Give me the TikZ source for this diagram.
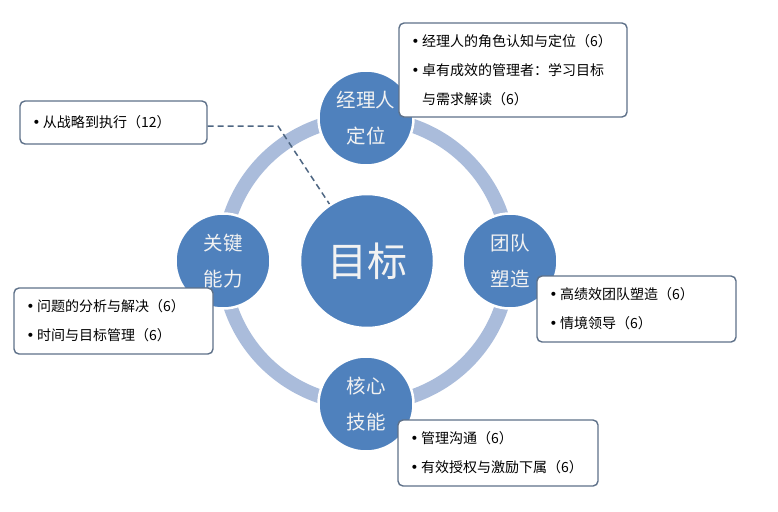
\documentclass[tikz,border=0pt]{standalone}
\usepackage{fontspec}
\setmainfont{Noto Sans CJK SC}
\newfontfamily\dotfont{DejaVu Sans}
\usepackage{xcolor}
\usetikzlibrary{positioning}
\definecolor{nodeblue}{HTML}{4F81BD}
\definecolor{ringblue}{HTML}{AABCDB}
\definecolor{boxline}{HTML}{5E7189}
\definecolor{dashline}{HTML}{4E6682}
\newcommand{\itm}[1]{\makebox[13pt][c]{\dotfont•}#1}
\newcommand{\cont}[1]{\hspace*{13pt}#1}

\begin{document}
\begin{tikzpicture}[
  x=1pt, y=-1pt,
  hub/.style={circle, fill=nodeblue, draw=white, line width=2.5pt,
              text=white!95!black, align=center, inner sep=0pt},
  goal/.style={hub, minimum size=134pt, font=\fontsize{40}{40}\selectfont},
  part/.style={hub, minimum size=95pt, font=\fontsize{19.5}{36}\selectfont},
  info/.style={draw=boxline, line width=1.4pt, rounded corners=5pt, fill=white,
               align=left, inner xsep=10pt, inner ysep=0pt,
               font=\fontsize{14}{29}\selectfont},
  ring/.style={ringblue, line width=14pt},
  link/.style={dashline, line width=1.5pt, dash pattern=on 6pt off 4pt},
]
\useasboundingbox (0,0) rectangle (778,511);
\draw[ring] (366,261) circle[radius=143];

\node[goal] (aim) at (367,261) {目标};
\node[part] (role) at (366,118) {经理人\\定位};
\node[part] (team) at (510,261) {团队\\塑造};
\node[part] (skill) at (366,404) {核心\\技能};
\node[part] (power) at (223,261) {关键\\能力};

\node[info, minimum width=228pt, minimum height=94pt, text width=208pt] (rolebox) at (513,70)
  {\itm{经理人的角色认知与定位（6）}\\\itm{卓有成效的管理者：学习目标}\\\cont{与需求解读（6）}};
\node[info, minimum width=187pt, minimum height=43pt, text width=167pt] (planbox) at (113.5,122.5)
  {\itm{从战略到执行（12）}};
\node[info, minimum width=199pt, minimum height=66pt, text width=179pt] (powerbox) at (113.5,321)
  {\itm{问题的分析与解决（6）}\\\itm{时间与目标管理（6）}};
\node[info, minimum width=199pt, minimum height=66pt, text width=179pt] (teambox) at (636.5,309)
  {\itm{高绩效团队塑造（6）}\\\itm{情境领导（6）}};
\node[info, minimum width=200pt, minimum height=66pt, text width=180pt] (skillbox) at (498,453)
  {\itm{管理沟通（6）}\\\itm{有效授权与激励下属（6）}};

\coordinate (bend) at (278,126);
\draw[link] (planbox.east |- bend) -- (bend) -- (aim);
\end{tikzpicture}
\end{document}
